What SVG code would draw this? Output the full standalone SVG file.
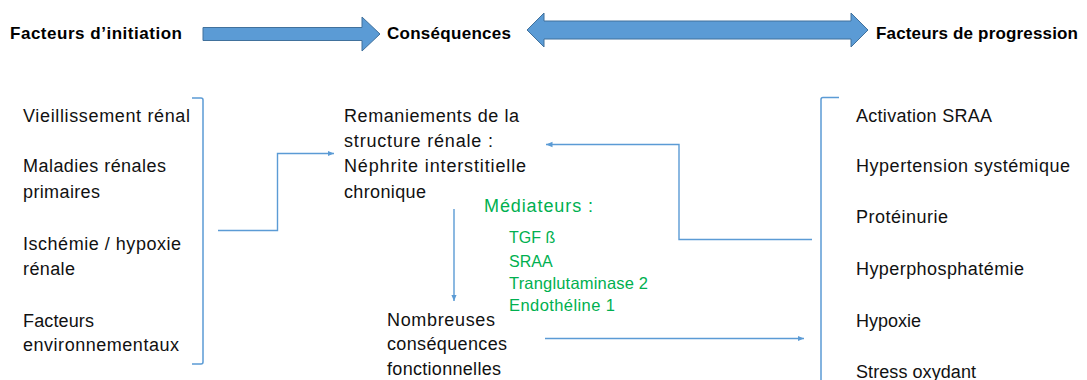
<svg xmlns="http://www.w3.org/2000/svg" width="1087" height="380" viewBox="0 0 1087 380">
<defs>
<style>
.hd{font-family:"Liberation Sans",Arial,sans-serif;font-weight:bold;font-size:17px;fill:#000}
.tx{font-family:"Liberation Sans",Arial,sans-serif;font-size:18px;fill:#111}
.gr{font-family:"Liberation Sans",Arial,sans-serif;fill:#00B050}
.big{fill:#5B9BD5;stroke:#41719C;stroke-width:1}
.ln{fill:none;stroke:#5B9BD5;stroke-width:1.4}
.br{fill:none;stroke:#5B9BD5;stroke-width:1.5}
</style>
<marker id="ah" markerUnits="userSpaceOnUse" markerWidth="10" markerHeight="10" viewBox="0 0 10 10" refX="6.5" refY="5" orient="auto">
<path d="M0,2.2 L6.5,5 L0,7.8 Z" fill="#5B9BD5"/>
</marker>
</defs>
<rect width="1087" height="380" fill="#fff"/>

<g id="header">
<text class="hd" x="10" y="39" textLength="172">Facteurs d’initiation</text>
<text class="hd" x="387" y="39" textLength="124">Conséquences</text>
<text class="hd" x="876" y="39" textLength="202">Facteurs de progression</text>
<polygon id="arrow-initiation" class="big" points="203,27.5 362,27.5 362,17 380,34 362,51 362,40.5 203,40.5"/>
<polygon id="arrow-progression" class="big" points="527,30 544,13 544,21 851,21 851,13 868,30 851,47 851,39 544,39 544,47"/>
</g>

<g id="node-initiation">
<path class="br" d="M192,98 L201,98 Q203,98 203,100 L203,362 Q203,364 201,364 L192,364"/>
<text class="tx" x="23" y="122" textLength="167">Vieillissement  rénal</text>
<text class="tx" x="23" y="172" textLength="143">Maladies  rénales</text>
<text class="tx" x="23" y="198" textLength="77">primaires</text>
<text class="tx" x="23" y="250" textLength="158">Ischémie  /  hypoxie</text>
<text class="tx" x="23" y="275" textLength="52">rénale</text>
<text class="tx" x="23" y="327" textLength="71">Facteurs</text>
<text class="tx" x="23" y="351" textLength="156">environnementaux</text>
</g>

<g id="node-remaniements">
<text class="tx" x="344" y="122" textLength="175">Remaniements  de la</text>
<text class="tx" x="344" y="147" textLength="149">structure  rénale  :</text>
<text class="tx" x="344" y="172" textLength="182">Néphrite  interstitielle</text>
<text class="tx" x="344" y="198" textLength="82">chronique</text>
</g>

<g id="node-mediateurs">
<text class="gr" x="484" y="212" font-size="18" textLength="109">Médiateurs  :</text>
<text class="gr" x="509" y="243" font-size="16">TGF ß</text>
<text class="gr" x="509" y="267" font-size="16">SRAA</text>
<text class="gr" x="509" y="289" font-size="16.5" textLength="139">Tranglutaminase 2</text>
<text class="gr" x="509" y="311" font-size="16.5" textLength="106">Endothéline 1</text>
</g>

<g id="node-consequences">
<text class="tx" x="387" y="326" textLength="108">Nombreuses</text>
<text class="tx" x="387" y="350" textLength="120">conséquences</text>
<text class="tx" x="387" y="375" textLength="114">fonctionnelles</text>
</g>

<g id="node-progression">
<path class="br" d="M839,97.5 L823,97.5 Q821,97.5 821,99.5 L821,382"/>
<text class="tx" x="856" y="122" textLength="136">Activation  SRAA</text>
<text class="tx" x="856" y="172" textLength="214">Hypertension  systémique</text>
<text class="tx" x="856" y="223" textLength="92">Protéinurie</text>
<text class="tx" x="856" y="275" textLength="168">Hyperphosphatémie</text>
<text class="tx" x="856" y="327" textLength="65">Hypoxie</text>
<text class="tx" x="856" y="378" textLength="120">Stress oxydant</text>
</g>

<g id="connectors">
<polyline class="ln" points="218,230.5 277.5,230.5 277.5,153.5 334,153.5" marker-end="url(#ah)"/>
<polyline class="ln" points="812,239.5 679,239.5 679,144.5 546,144.5" marker-end="url(#ah)"/>
<line class="ln" x1="454" y1="209" x2="454" y2="301" marker-end="url(#ah)"/>
<line class="ln" x1="545" y1="338.5" x2="804" y2="338.5" marker-end="url(#ah)"/>
</g>
</svg>
